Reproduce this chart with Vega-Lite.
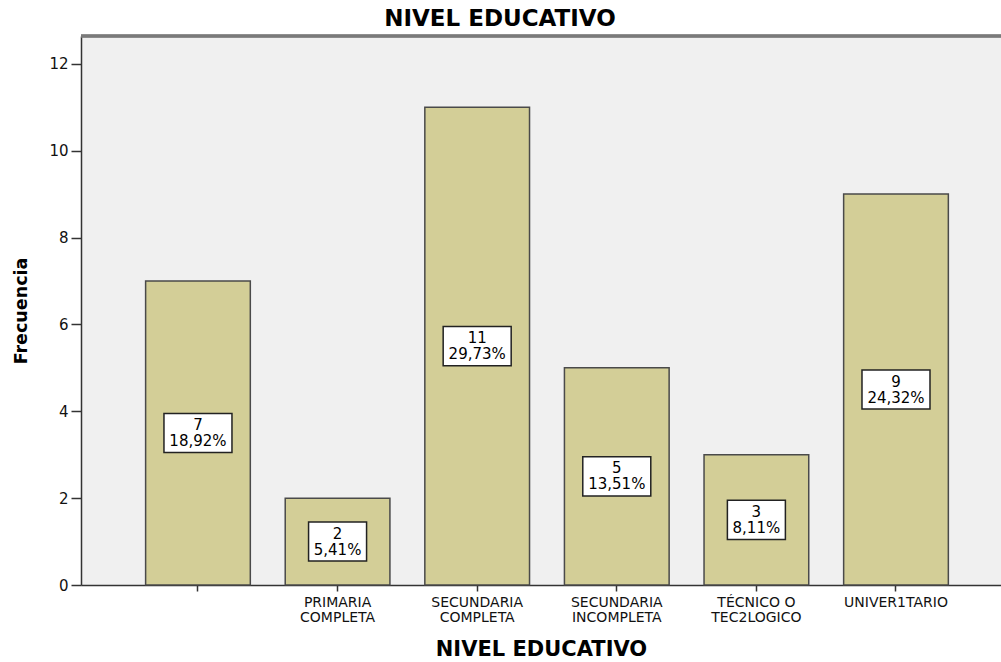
{
  "$schema": "https://vega.github.io/schema/vega-lite/v6.json",
  "autosize": "none",
  "width": 920,
  "height": 549,
  "padding": {"left": 81, "top": 36, "right": 0, "bottom": 77},
  "background": "white",
  "title": {"text": "NIVEL EDUCATIVO", "font": "DejaVu Sans", "fontSize": 23, "fontWeight": "bold", "color": "#000", "offset": 4, "dx": -41, "anchor": "middle"},
  "data": {"values": [
    {"nivel": " ", "count": 7, "pct": "18,92%"},
    {"nivel": "PRIMARIA|COMPLETA", "count": 2, "pct": "5,41%"},
    {"nivel": "SECUNDARIA|COMPLETA", "count": 11, "pct": "29,73%"},
    {"nivel": "SECUNDARIA|INCOMPLETA", "count": 5, "pct": "13,51%"},
    {"nivel": "TÉCNICO O|TEC2LOGICO", "count": 3, "pct": "8,11%"},
    {"nivel": "UNIVER1TARIO", "count": 9, "pct": "24,32%"}
  ]},
  "transform": [
    {"calculate": "datum.count / 2", "as": "mid"},
    {"calculate": "datum.count / 2 - 0.45", "as": "lo"},
    {"calculate": "datum.count / 2 + 0.45", "as": "hi"},
    {"calculate": "[toString(datum.count), datum.pct]", "as": "txt"}
  ],
  "encoding": {
    "x": {"field": "nivel", "type": "nominal", "sort": null,
      "scale": {"paddingInner": 0.25, "paddingOuter": 0.42, "align": 0.551},
      "axis": {"title": "NIVEL EDUCATIVO", "labelAngle": 0, "labelExpr": "split(datum.value, '|')",
        "labelFont": "DejaVu Sans", "labelFontSize": 14, "labelColor": "#111", "labelLineHeight": 15, "labelBaseline": "top",
        "labelPadding": 4, "tickSize": 6, "tickColor": "#333", "tickWidth": 1.5, "domainColor": "#333", "domainWidth": 1.5,
        "titleFont": "DejaVu Sans", "titleFontSize": 21, "titleFontWeight": "bold", "titleColor": "#000", "titlePadding": 14}
    }
  },
  "layer": [
    {
      "mark": {"type": "rule", "stroke": "#7a7a7a", "strokeWidth": 2.5},
      "encoding": {"y": {"datum": 12.64, "type": "quantitative"}, "x": null}
    },
    {
      "mark": {"type": "bar", "fill": "#D3CE97", "stroke": "#4a4a4a", "strokeWidth": 1.5},
      "encoding": {
        "y": {"field": "count", "type": "quantitative",
          "scale": {"domain": [0, 12.64], "nice": false},
          "axis": {"title": "Frecuencia", "values": [0, 2, 4, 6, 8, 10, 12], "grid": false,
            "labelFont": "DejaVu Sans", "labelFontSize": 15, "labelColor": "#111", "labelPadding": 3,
            "tickSize": 10, "tickColor": "#333", "tickWidth": 1.5, "domainColor": "#333", "domainWidth": 1.5,
            "titleFont": "DejaVu Sans", "titleFontSize": 17.5, "titleFontWeight": "bold", "titleColor": "#000", "titlePadding": 18}
        }
      }
    },
    {
      "transform": [{"filter": "length(datum.pct) >= 6"}],
      "mark": {"type": "bar", "width": 68, "fill": "white", "stroke": "#222", "strokeWidth": 1.5},
      "encoding": {"y": {"field": "lo", "type": "quantitative"}, "y2": {"field": "hi"}}
    },
    {
      "transform": [{"filter": "length(datum.pct) < 6"}],
      "mark": {"type": "bar", "width": 58, "fill": "white", "stroke": "#222", "strokeWidth": 1.5},
      "encoding": {"y": {"field": "lo", "type": "quantitative"}, "y2": {"field": "hi"}}
    },
    {
      "mark": {"type": "text", "font": "DejaVu Sans", "fontSize": 15, "color": "#000", "lineHeight": 16, "baseline": "middle", "align": "center", "dy": -8},
      "encoding": {
        "y": {"field": "mid", "type": "quantitative"},
        "text": {"field": "txt"}
      }
    }
  ],
  "config": {"view": {"fill": "#F0F0F0", "stroke": null}}
}
